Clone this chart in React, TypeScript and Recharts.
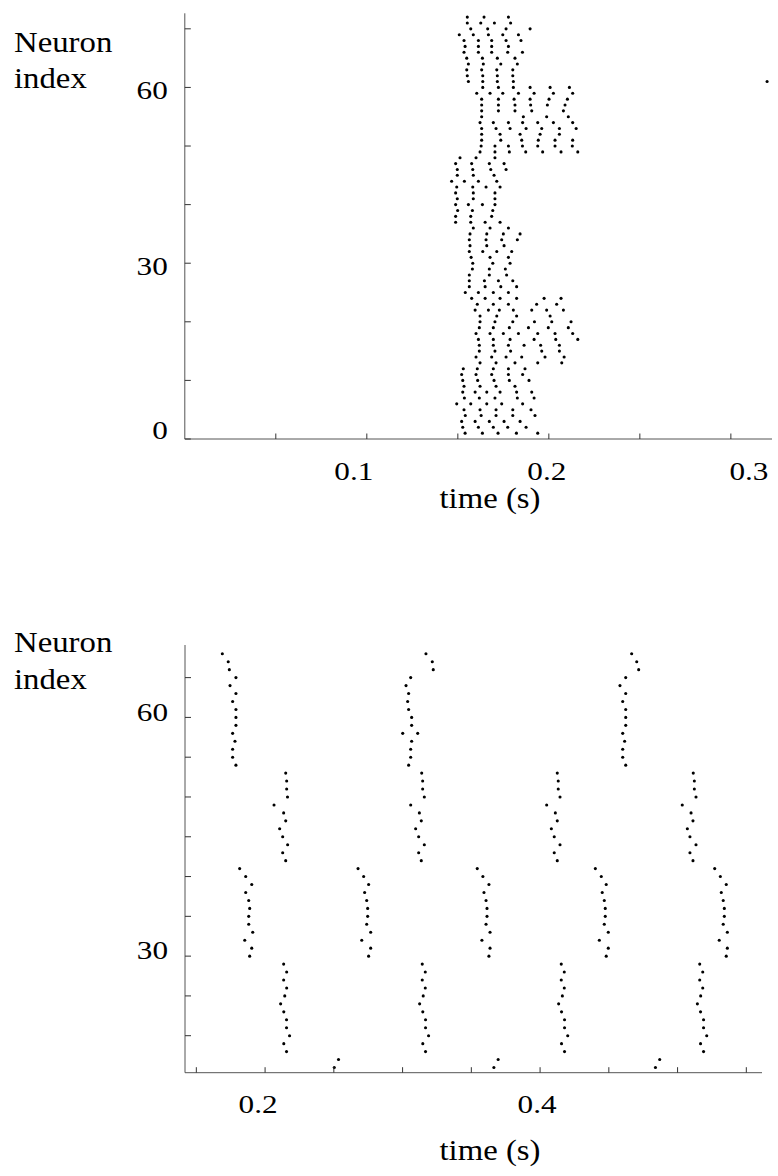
import React from "react";
import { ScatterChart, Scatter, XAxis, YAxis } from "recharts";

// ---------------- top raster ----------------
const topNeuronIds = [
  1, 2, 3, 4, 5, 6, 7, 8, 9, 10, 11, 12, 13, 14, 15, 16, 17, 18, 19, 20, 21, 22, 23, 24,
  25, 26, 27, 28, 29, 30, 31, 32, 33, 34, 35, 36, 37, 38, 39, 40, 41, 42, 43, 44, 45, 46, 47, 48,
  49, 50, 51, 52, 53, 54, 55, 56, 57, 58, 59, 60, 61, 62, 63, 64, 65, 66, 67, 68, 69, 70, 71, 72,
];
const topSpikeTimes: number[][] = [
  [0.154, 0.1635, 0.1721, 0.1822, 0.1939],
  [0.1527, 0.1613, 0.1695, 0.1774, 0.1875],
  [0.1521, 0.1595, 0.1673, 0.1754, 0.1842],
  [0.1541, 0.1628, 0.171, 0.1802, 0.1924],
  [0.1534, 0.1622, 0.171, 0.1802, 0.1902],
  [0.1494, 0.1571, 0.1659, 0.1741, 0.1856],
  [0.1536, 0.1618, 0.1704, 0.1827, 0.1919],
  [0.1527, 0.1595, 0.1659, 0.1732, 0.1823, 0.1906],
  [0.1534, 0.1622, 0.171, 0.1814],
  [0.1527, 0.1609, 0.1699, 0.1783, 0.1891],
  [0.1521, 0.16, 0.1686, 0.1778, 0.1856],
  [0.153, 0.1607, 0.1695, 0.1778, 0.1869],
  [0.1622, 0.171, 0.1814, 0.1939, 0.2071],
  [0.16, 0.1686, 0.1765, 0.1851, 0.1979, 0.2084],
  [0.1618, 0.1704, 0.179, 0.1961, 0.2058],
  [0.1618, 0.1695, 0.1778, 0.1864, 0.1955, 0.2058],
  [0.1613, 0.1695, 0.1787, 0.1919, 0.2038, 0.2159],
  [0.16, 0.1677, 0.175, 0.1833, 0.1939, 0.2034, 0.2131],
  [0.1618, 0.1695, 0.1783, 0.1888, 0.1997, 0.2107],
  [0.1622, 0.1704, 0.1802, 0.1921, 0.2016, 0.2122],
  [0.1622, 0.1714, 0.1823, 0.2007],
  [0.1595, 0.1668, 0.1728, 0.1805, 0.1906, 0.1988, 0.208],
  [0.1607, 0.1695, 0.1778, 0.1933, 0.2043],
  [0.1576, 0.165, 0.1732, 0.1823, 0.1974, 0.2067],
  [0.1541, 0.1613, 0.1695, 0.1778],
  [0.1563, 0.165, 0.1736, 0.1823],
  [0.1563, 0.1646, 0.1723, 0.1802],
  [0.1563, 0.1673, 0.1768],
  [0.158, 0.1673, 0.1761],
  [0.1582, 0.1692, 0.1787],
  [0.1573, 0.1677, 0.1778],
  [0.1563, 0.1637, 0.1714, 0.1796],
  [0.1567, 0.1659, 0.1754],
  [0.1563, 0.1655, 0.1741, 0.1827],
  [0.1567, 0.1659, 0.175, 0.1842],
  [0.1585, 0.1677, 0.1778],
  [0.1488, 0.1571, 0.165, 0.1732],
  [0.1488, 0.1571, 0.1686],
  [0.1499, 0.158, 0.1692],
  [0.1488, 0.1558, 0.1635, 0.1704],
  [0.1497, 0.1585, 0.1704],
  [0.1488, 0.1585, 0.1704],
  [0.1494, 0.1582, 0.1655, 0.1732],
  [0.1466, 0.1536, 0.1613, 0.1714],
  [0.1497, 0.1585, 0.1699],
  [0.1497, 0.1582, 0.1681, 0.1765],
  [0.1488, 0.1576, 0.1673, 0.1754],
  [0.1512, 0.16, 0.1704],
  [0.1622, 0.1704, 0.1783, 0.1873, 0.1966, 0.2067, 0.2159],
  [0.1628, 0.1704, 0.1778, 0.1855, 0.1939, 0.2034, 0.2129],
  [0.1631, 0.1736, 0.1851, 0.1942, 0.2034, 0.2131],
  [0.1631, 0.1732, 0.1842, 0.1952, 0.2058],
  [0.1631, 0.171, 0.1787, 0.1875, 0.1961, 0.2058, 0.215],
  [0.1622, 0.1695, 0.1778, 0.1856, 0.1939, 0.2025, 0.2131],
  [0.1631, 0.186, 0.1988, 0.2107],
  [0.1631, 0.1723, 0.1814, 0.1906, 0.208],
  [0.1631, 0.1723, 0.1814, 0.19, 0.1992, 0.2089],
  [0.1631, 0.1723, 0.1809, 0.1897, 0.2001, 0.2102],
  [0.1604, 0.1677, 0.1747, 0.1833, 0.1919, 0.2025, 0.2131],
  [0.1637, 0.1723, 0.1805, 0.1897, 0.2007, 0.2113],
  [0.1558, 0.1637, 0.1717, 0.1805, 0.3199],
  [0.1552, 0.1637, 0.1717, 0.1802],
  [0.1549, 0.1631, 0.1714, 0.1802],
  [0.1558, 0.164, 0.1736, 0.1827],
  [0.1549, 0.1635, 0.1717, 0.1814],
  [0.1534, 0.1613, 0.1686, 0.1774, 0.1855],
  [0.154, 0.1613, 0.1686, 0.1778],
  [0.1534, 0.1613, 0.1686, 0.1765, 0.1847],
  [0.1508, 0.1585, 0.1668, 0.1747, 0.1833],
  [0.1571, 0.1664, 0.1765, 0.1897],
  [0.1552, 0.1626, 0.1701, 0.179],
  [0.1552, 0.1644, 0.1778],
];

// ---------------- bottom raster ----------------
const bottomNeuronIds = [
  68, 67, 66, 65, 64, 63, 62, 61, 60, 59, 58, 57, 56, 55, 54, 53, 52, 51, 50, 49, 48, 47, 46, 45,
  44, 43, 42, 41, 40, 39, 38, 37, 36, 35, 34, 33, 32, 31, 30, 29, 28, 27, 26, 25, 24, 23, 22, 21,
  20, 19, 18, 17, 16,
];
const bottomSpikeTimes: number[][] = [
  [0.1689, 0.317, 0.4666],
  [0.1732, 0.3216, 0.4703],
  [0.174, 0.3223, 0.4717],
  [0.1788, 0.3059, 0.4623],
  [0.1745, 0.3025, 0.4581],
  [0.1788, 0.3044, 0.4623],
  [0.1764, 0.3037, 0.4601],
  [0.1788, 0.3044, 0.4623],
  [0.1788, 0.3066, 0.4623],
  [0.1788, 0.3066, 0.4623],
  [0.1764, 0.3001, 0.311, 0.4601],
  [0.1781, 0.3066, 0.4615],
  [0.1764, 0.3059, 0.4601],
  [0.1764, 0.3059, 0.4601],
  [0.1788, 0.3044, 0.4623],
  [0.215, 0.3139, 0.4125, 0.5114],
  [0.2157, 0.3146, 0.4132, 0.5122],
  [0.2157, 0.3146, 0.4132, 0.5122],
  [0.2163, 0.3158, 0.4145, 0.5134],
  [0.2065, 0.3059, 0.4048, 0.5034],
  [0.2135, 0.3122, 0.4111, 0.5098],
  [0.215, 0.3136, 0.4125, 0.5112],
  [0.2106, 0.3095, 0.4082, 0.5071],
  [0.2128, 0.3117, 0.4103, 0.509],
  [0.2164, 0.3158, 0.4145, 0.5134],
  [0.2128, 0.3117, 0.4103, 0.509],
  [0.215, 0.3136, 0.4125, 0.5112],
  [0.1815, 0.2676, 0.3543, 0.4402, 0.527],
  [0.1859, 0.2717, 0.3584, 0.4445, 0.5311],
  [0.1903, 0.2753, 0.3628, 0.4481, 0.5354],
  [0.1859, 0.2724, 0.3592, 0.4452, 0.5318],
  [0.1881, 0.2739, 0.3607, 0.4467, 0.5332],
  [0.1888, 0.2746, 0.3614, 0.4474, 0.534],
  [0.1881, 0.2746, 0.3614, 0.4474, 0.534],
  [0.1881, 0.2739, 0.3607, 0.4467, 0.5332],
  [0.191, 0.2768, 0.3636, 0.4496, 0.5362],
  [0.1852, 0.2703, 0.3577, 0.4431, 0.5303],
  [0.1903, 0.2768, 0.3636, 0.4496, 0.5362],
  [0.1888, 0.2753, 0.3628, 0.4481, 0.5354],
  [0.2135, 0.3143, 0.4154, 0.5161],
  [0.2157, 0.3165, 0.4176, 0.5183],
  [0.2135, 0.3143, 0.4154, 0.5161],
  [0.2157, 0.3165, 0.4176, 0.5183],
  [0.2143, 0.315, 0.4162, 0.5168],
  [0.2113, 0.3124, 0.4135, 0.5144],
  [0.2136, 0.3147, 0.4156, 0.5167],
  [0.2156, 0.3167, 0.4178, 0.5189],
  [0.2156, 0.3167, 0.4178, 0.5189],
  [0.2178, 0.3189, 0.4201, 0.5212],
  [0.2136, 0.3147, 0.4156, 0.5167],
  [0.2156, 0.3167, 0.4178, 0.5189],
  [0.2534, 0.3695, 0.487],
  [0.2503, 0.3664, 0.4839],
];

// ---------------- axes ----------------
const topXTicks = [0.05, 0.1, 0.15, 0.2, 0.25, 0.3];
const topXLabelValues = [0.1, 0.2, 0.3];
const topXLabelTexts = ["0.1", "0.2", "0.3"];
const topXLabelNudge = [-13, -2, 18];
const topYTicks = [0, 10, 20, 30, 40, 50, 60, 70];
const topYLabelValues = [0, 30, 60];
const topYLabelTexts = ["0", "30", "60"];
const topYLabelNudge = [-11, 0, 0];

const bottomXTicks = [0.15, 0.2, 0.25, 0.3, 0.35, 0.4, 0.45, 0.5, 0.55];
const bottomXLabelValues = [0.2, 0.4];
const bottomXLabelTexts = ["0.2", "0.4"];
const bottomXLabelNudge = [-7, -3];
const bottomYTicks = [20, 25, 30, 35, 40, 45, 50, 55, 60, 65];
const bottomYLabelValues = [30, 60];
const bottomYLabelTexts = ["30", "60"];
const bottomYLabelNudge = [-8, -8];

const FONT = "'Liberation Serif', 'Times New Roman', serif";
const TICK_FONT = 26;
const STRETCH = 1.2;
const AXIS_COLOR = "#555";
const TICK_COLOR = "#333";

const toPoints = (ids: number[], times: number[][]) =>
  ids.flatMap((n, i) => times[i].map((t) => ({ t, n })));

const topPoints = toPoints(topNeuronIds, topSpikeTimes);
const bottomPoints = toPoints(bottomNeuronIds, bottomSpikeTimes);

const findIdx = (vals: number[], v: number) => vals.findIndex((a) => Math.abs(a - v) < 1e-6);

const makeXTick =
  (vals: number[], texts: string[], nudge: number[]) =>
  (props: any) => {
    const { x, y, payload } = props;
    const i = findIdx(vals, payload.value);
    return (
      <g>
        <line x1={x} y1={y} x2={x} y2={y - 5.5} stroke={TICK_COLOR} strokeWidth={1} />
        {i >= 0 && (
          <text
            transform={`translate(${x + nudge[i]},${y + 40.5}) scale(${STRETCH},1)`}
            textAnchor="middle"
            fontFamily={FONT}
            fontSize={TICK_FONT}
            fill="#000"
          >
            {texts[i]}
          </text>
        )}
      </g>
    );
  };

const makeYTick =
  (vals: number[], texts: string[], nudge: number[]) =>
  (props: any) => {
    const { x, y, payload } = props;
    const i = findIdx(vals, payload.value);
    return (
      <g>
        <line x1={x} y1={y} x2={x + 6} y2={y} stroke={TICK_COLOR} strokeWidth={1} />
        {i >= 0 && (
          <text
            transform={`translate(${x - 17},${y + 11.3 + nudge[i]}) scale(${STRETCH},1)`}
            textAnchor="end"
            fontFamily={FONT}
            fontSize={TICK_FONT}
            fill="#000"
          >
            {texts[i]}
          </text>
        )}
      </g>
    );
  };

const Dot = (p: any) => <circle cx={p.cx} cy={p.cy} r={1.55} fill="#000" />;

const TopChart = () => (
  <ScatterChart width={778} height={520} margin={{ top: 13.3, right: 6, left: 0, bottom: 0 }}>
    <XAxis
      type="number"
      dataKey="t"
      domain={[0, 0.3226]}
      allowDataOverflow
      ticks={topXTicks}
      interval={0}
      tickSize={0}
      tickMargin={0}
      height={81}
      axisLine={{ stroke: AXIS_COLOR }}
      tickLine={false}
      tick={makeXTick(topXLabelValues, topXLabelTexts, topXLabelNudge)}
    />
    <YAxis
      type="number"
      dataKey="n"
      domain={[0, 72.65]}
      allowDataOverflow
      ticks={topYTicks}
      interval={0}
      tickSize={0}
      tickMargin={0}
      width={184.8}
      axisLine={{ stroke: AXIS_COLOR }}
      tickLine={false}
      tick={makeYTick(topYLabelValues, topYLabelTexts, topYLabelNudge)}
    />
    <Scatter data={topPoints} shape={Dot} isAnimationActive={false} />
  </ScatterChart>
);

const BottomChart = () => (
  <ScatterChart width={778} height={616} margin={{ top: 85, right: 16, left: 0, bottom: 0 }}>
    <XAxis
      type="number"
      dataKey="t"
      domain={[0.14175, 0.5614]}
      allowDataOverflow
      ticks={bottomXTicks}
      interval={0}
      tickSize={0}
      tickMargin={0}
      height={103.3}
      axisLine={{ stroke: AXIS_COLOR }}
      tickLine={false}
      tick={makeXTick(bottomXLabelValues, bottomXLabelTexts, bottomXLabelNudge)}
    />
    <YAxis
      type="number"
      dataKey="n"
      domain={[15.35, 69.1]}
      allowDataOverflow
      ticks={bottomYTicks}
      interval={0}
      tickSize={0}
      tickMargin={0}
      width={185}
      axisLine={{ stroke: AXIS_COLOR }}
      tickLine={false}
      tick={makeYTick(bottomYLabelValues, bottomYLabelTexts, bottomYLabelNudge)}
    />
    <Scatter data={bottomPoints} shape={Dot} isAnimationActive={false} />
  </ScatterChart>
);

const TitleText = ({ x, y, text, anchor }: { x: number; y: number; text: string; anchor: string }) => (
  <text
    transform={`translate(${x},${y}) scale(1.15,1)`}
    textAnchor={anchor as any}
    fontFamily={FONT}
    fontSize={28.5}
    fill="#000"
  >
    {text}
  </text>
);

export default function App() {
  return (
    <div style={{ position: "absolute", left: 0, top: 0, width: 778, height: 1176, background: "#fff" }}>
      <div style={{ position: "absolute", left: 0, top: 0 }}>
        <TopChart />
      </div>
      <div style={{ position: "absolute", left: 0, top: 560 }}>
        <BottomChart />
      </div>
      <svg
        width={778}
        height={1176}
        style={{ position: "absolute", left: 0, top: 0, pointerEvents: "none" }}
      >
        <TitleText x={14} y={51.7} text="Neuron" anchor="start" />
        <TitleText x={14} y={88.3} text="index" anchor="start" />
        <TitleText x={490} y={508} text="time (s)" anchor="middle" />
        <TitleText x={14} y={652} text="Neuron" anchor="start" />
        <TitleText x={14} y={689} text="index" anchor="start" />
        <TitleText x={490} y={1160} text="time (s)" anchor="middle" />
      </svg>
    </div>
  );
}
